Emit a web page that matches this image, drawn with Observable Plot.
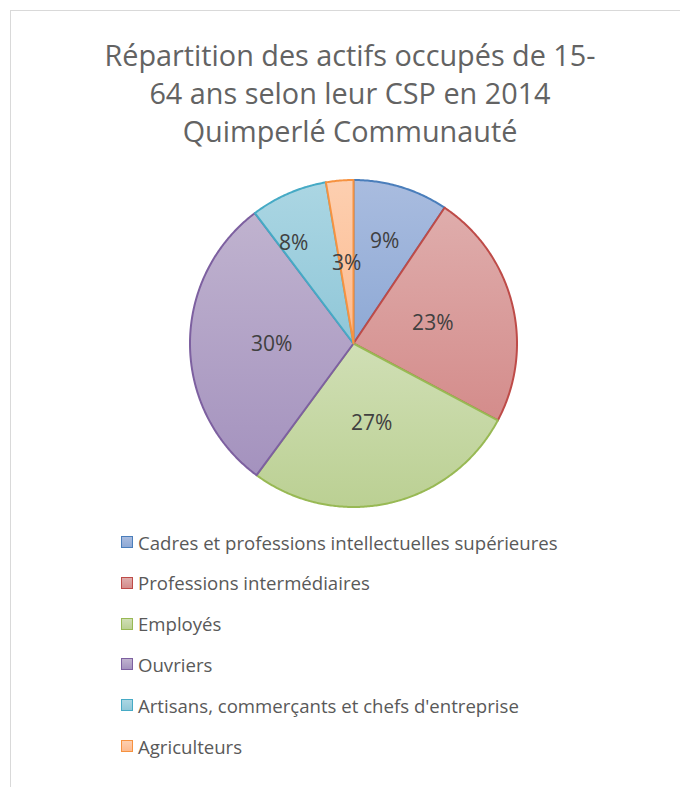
<!DOCTYPE html>
<html><head><meta charset="utf-8">
<script src="https://cdn.jsdelivr.net/npm/d3@7"></script>
<script src="https://cdn.jsdelivr.net/npm/@observablehq/plot@0.6"></script>
<style>
html,body{margin:0;padding:0;overflow:hidden;background:#fff;width:680px;height:787px;}
body{font-family:"Open Sans",sans-serif;position:relative;}
#frame{position:absolute;left:10px;top:10px;width:720px;height:820px;border:1.5px solid #d9d9d9;box-sizing:border-box;}
#title{position:absolute;left:0;width:700px;top:36px;text-align:center;font-size:28.8px;line-height:38px;color:#636363;}
#chart{position:absolute;left:182.5px;top:172.5px;}
.leg{position:absolute;left:121px;height:20px;display:flex;align-items:center;font-size:18.6px;color:#595959;white-space:nowrap;}
.sw{width:10px;height:10px;border:1.5px solid;margin-right:5px;flex:none;}
</style></head>
<body>
<div id="frame"></div>
<div id="title">Répartition des actifs occupés de 15-<br>64 ans selon leur CSP en 2014<br>Quimperlé Communauté</div>
<div id="chart"></div>
<div id="legend"></div>
<script>
// ---- data ----
const categories = [
  "Cadres et professions intellectuelles supérieures",
  "Professions intermédiaires",
  "Employés",
  "Ouvriers",
  "Artisans, commerçants et chefs d'entreprise",
  "Agriculteurs"
];
const shares = [9.4, 23.4, 27.3, 29.6, 7.6, 2.7];
const strokeColors = ["#4a7ebb", "#be4b48", "#98b954", "#7d60a0", "#46aac5", "#f69240"];
const fillTop = ["#a9bcdf", "#dfadac", "#d0dfb5", "#c0b3cf", "#abd6e3", "#fdcfb0"];
const fillBottom = ["#8ea9d5", "#d48c8b", "#bbd093", "#a492be", "#90c7d8", "#fcbb90"];

// label placement tweaks (radius fraction, angle shift in degrees)
const labelPlacement = [[0.655, 0], [0.5, 0], [0.5, 0], [0.5, 0], [0.716, -7.3], [0.49, 0]];

const total = d3.sum(shares);
const rows = [];
let acc = 0;
categories.forEach((c, i) => {
  const a0 = acc / total * 2 * Math.PI;
  acc += shares[i];
  const a1 = acc / total * 2 * Math.PI;
  rows.push({c, i, a0, a1, label: Math.round(shares[i] / total * 100) + "%"});
});

function slicePoints(r) {
  const pts = [{x: 0, y: 0}];
  const n = Math.max(2, Math.ceil((r.a1 - r.a0) / (Math.PI / 360)));
  for (let k = 0; k <= n; k++) {
    const a = r.a0 + (r.a1 - r.a0) * k / n;
    pts.push({x: Math.sin(a), y: Math.cos(a)});
  }
  return pts;
}

const labels = rows.map(r => {
  const [rf, da] = labelPlacement[r.i];
  const a = (r.a0 + r.a1) / 2 + da * Math.PI / 180;
  return {x: rf * Math.sin(a), y: rf * Math.cos(a), label: r.label};
});

const plot = Plot.plot({
  width: 340,
  height: 340,
  margin: 6.5,
  x: {domain: [-1, 1], axis: null},
  y: {domain: [-1, 1], axis: null},
  style: {background: "transparent", overflow: "visible"},
  marks: [
    ...rows.map(r => Plot.line(slicePoints(r), {
      x: "x", y: "y", curve: "linear-closed",
      fill: `url(#grad${r.i})`, stroke: strokeColors[r.i], strokeWidth: 2,
      strokeLinejoin: "round"
    })),
    Plot.text(labels, {x: "x", y: "y", text: "label", fontSize: 21, fill: "#404040",
      fontFamily: "Open Sans", textAnchor: "middle", lineAnchor: "middle"})
  ]
});

const defs = d3.select(plot).insert("defs", ":first-child");
rows.forEach(r => {
  const g = defs.append("linearGradient").attr("id", "grad" + r.i)
    .attr("x1", 0).attr("y1", 0).attr("x2", 0).attr("y2", 1);
  g.append("stop").attr("offset", "0%").attr("stop-color", fillTop[r.i]);
  g.append("stop").attr("offset", "100%").attr("stop-color", fillBottom[r.i]);
});
document.getElementById("chart").appendChild(plot);

const legend = document.getElementById("legend");
categories.forEach((c, i) => {
  const d = document.createElement("div");
  d.className = "leg";
  d.style.top = (532 + i * 40.8) + "px";
  d.innerHTML = `<span class="sw" style="border-color:${strokeColors[i]};background:linear-gradient(${fillTop[i]},${fillBottom[i]})"></span>${c}`;
  legend.appendChild(d);
});
</script>
</body></html>
